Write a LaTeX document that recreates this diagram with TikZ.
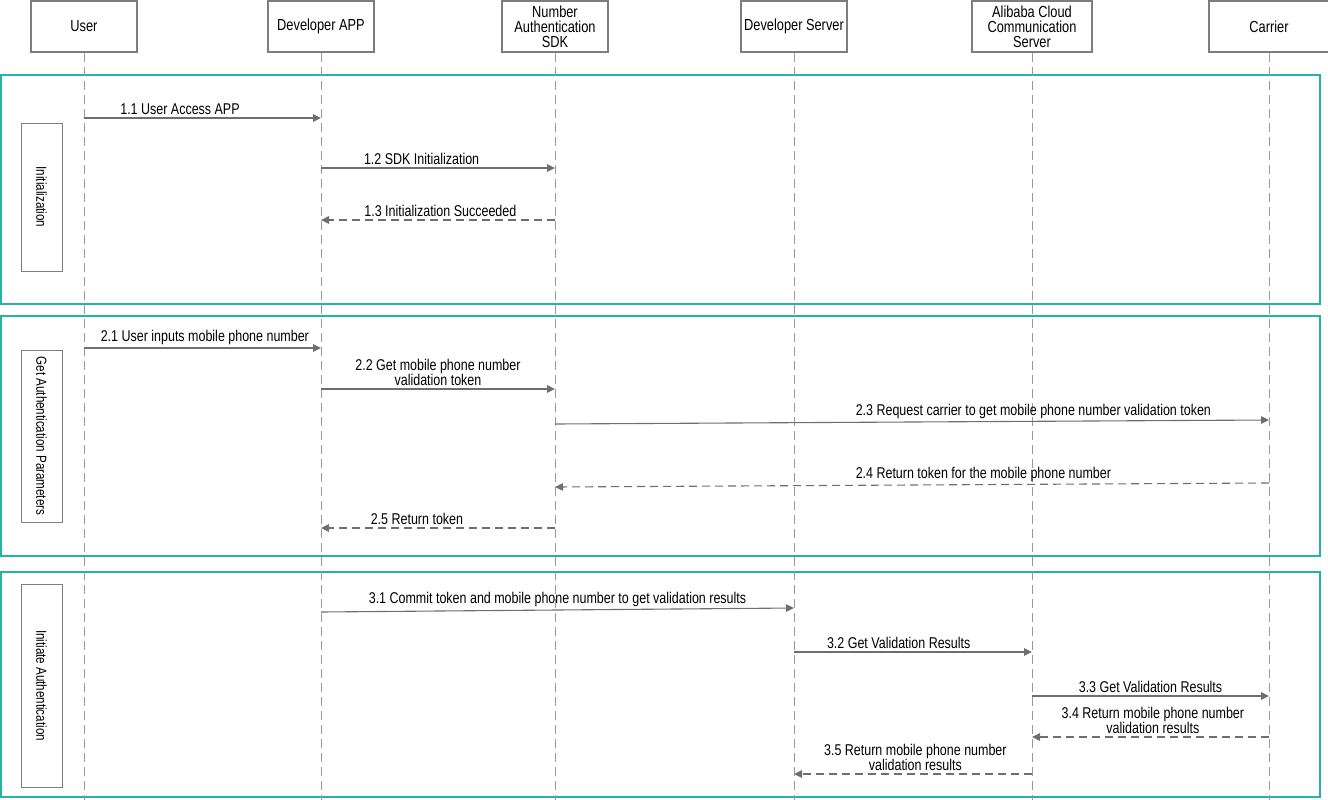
\documentclass[tikz,border=0pt]{standalone}
\usepackage{fontspec}
\setmainfont{Liberation Sans}[FakeStretch=0.8]
\usetikzlibrary{arrows.meta}
\definecolor{frameteal}{RGB}{38,178,168}
\definecolor{linegray}{RGB}{110,110,110}
\definecolor{boxgray}{RGB}{125,125,125}
\tikzset{
  actor/.style={draw=boxgray, line width=1.2pt, fill=white, minimum width=106pt,
    minimum height=51pt, align=center, inner sep=1pt, font=\fontsize{16}{15}\selectfont},
  lifeline/.style={draw=gray!80, line width=1pt, dash pattern=on 9pt off 5pt},
  phase/.style={draw=frameteal, line width=2.6pt},
  phaselabel/.style={draw=boxgray, line width=1pt, rotate=-90, minimum height=41pt,
    inner sep=1pt, font=\fontsize{14.5}{14}\selectfont},
  msg/.style={draw=linegray, line width=1.1pt, -{Triangle[length=8pt,width=7.5pt]}},
  reply/.style={msg, dash pattern=on 8pt off 5pt},
  msglabel/.style={above, inner sep=2.5pt, align=center, font=\fontsize{15.6}{15}\selectfont}
}
\begin{document}
\begin{tikzpicture}[x=1pt, y=-1pt]
\useasboundingbox (0,0) rectangle (1328,800);
% phases
\draw[phase] (1,75) rectangle (1320,304);
\draw[phase] (1,316) rectangle (1320,556);
\draw[phase] (1,572) rectangle (1320,797);
\node[phaselabel, minimum width=148pt] (lbinit) at (41.5,197) {Initialization};
\node[phaselabel, minimum width=172pt] (lbparam) at (41.5,436) {Get Authentication Parameters};
\node[phaselabel, minimum width=203pt] (lbauth) at (41.5,685.5) {Initiate Authentication};
% participants
\node[actor] (user) at (84,26.5) {User};
\node[actor] (app) at (321,26.5) {Developer APP};
\node[actor] (sdk) at (555,26.5) {Number\\Authentication\\SDK};
\node[actor] (server) at (794,26.5) {Developer Server};
\node[actor, minimum width=120pt] (aliyun) at (1032,26.5) {Alibaba Cloud\\Communication\\Server};
\node[actor, minimum width=120pt] (carrier) at (1269,26.5) {Carrier};
\coordinate (bottom) at (0,800);
\foreach \p in {user,app,sdk,server,aliyun,carrier}
  \draw[lifeline] (\p.south) -- (\p |- bottom);
% messages
\foreach \s/\e/\ys/\ye/\q/\k/\t in {
  user/app/118/118/0.405/msg/{1.1 User Access APP},
  app/sdk/168/168/0.43/msg/{1.2 SDK Initialization},
  sdk/app/220/220/0.49/reply/{1.3 Initialization Succeeded},
  user/app/348/348/0.51/msg/{2.1 User inputs mobile phone number},
  app/sdk/389/389/0.5/msg/{2.2 Get mobile phone number\\validation token},
  sdk/carrier/424/420/0.67/msg/{2.3 Request carrier to get mobile phone number validation token},
  carrier/sdk/483/487/0.4/reply/{2.4 Return token for the mobile phone number},
  sdk/app/528/528/0.59/reply/{2.5 Return token},
  app/server/612/608/0.5/msg/{3.1 Commit token and mobile phone number to get validation results},
  server/aliyun/652/652/0.44/msg/{3.2 Get Validation Results},
  aliyun/carrier/696/696/0.5/msg/{3.3 Get Validation Results},
  carrier/aliyun/737/737/0.49/reply/{3.4 Return mobile phone number\\validation results},
  aliyun/server/774/774/0.49/reply/{3.5 Return mobile phone number\\validation results}}
  \draw[\k] (\s |- 0,\ys) -- (\e |- 0,\ye) node[msglabel, pos=\q] {\t};
\end{tikzpicture}
\end{document}
